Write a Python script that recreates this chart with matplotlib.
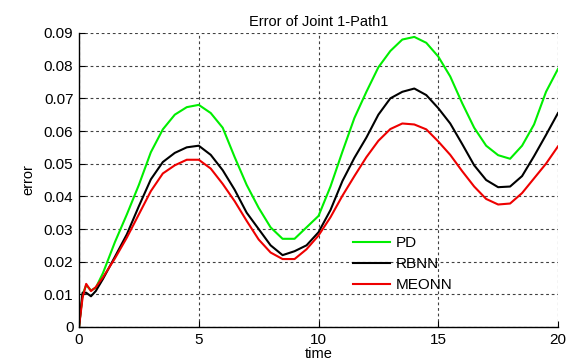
import matplotlib
matplotlib.use("Agg")
import matplotlib.pyplot as plt

t = [0, 0.15, 0.3, 0.5, 0.7, 1.0, 1.5, 2.0, 2.5, 3.0, 3.5, 4.0, 4.5, 5.0, 5.5, 6.0, 6.5, 7.0,
     7.5, 8.0, 8.5, 9.0, 9.5, 10, 10.5, 11, 11.5, 12, 12.5, 13, 13.5, 14, 14.5, 15, 15.5, 16,
     16.5, 17, 17.5, 18, 18.5, 19, 19.5, 20]

pd_err = [0, 0.010, 0.0128, 0.0112, 0.012, 0.0165, 0.026, 0.0345, 0.0435, 0.0535, 0.0605, 0.065,
          0.0673, 0.068, 0.0655, 0.061, 0.052, 0.0435, 0.0365, 0.0305, 0.027, 0.027, 0.0305, 0.034,
          0.043, 0.0537, 0.064, 0.072, 0.0795, 0.0845, 0.088, 0.0888, 0.087, 0.0828, 0.0767, 0.0685,
          0.061, 0.0555, 0.0526, 0.0515, 0.0555, 0.062, 0.072, 0.079]

rbnn_err = [0, 0.0105, 0.0105, 0.0094, 0.011, 0.0147, 0.0215, 0.0284, 0.037, 0.0452, 0.0505, 0.0533,
            0.055, 0.0555, 0.0527, 0.048, 0.042, 0.035, 0.030, 0.025, 0.022, 0.0232, 0.025, 0.029,
            0.0358, 0.0447, 0.0518, 0.058, 0.065, 0.070, 0.072, 0.073, 0.071, 0.067, 0.0623, 0.056,
            0.0495, 0.045, 0.0428, 0.043, 0.0462, 0.0523, 0.0588, 0.0655]

meonn_err = [0, 0.009, 0.0132, 0.011, 0.0122, 0.0152, 0.021, 0.0274, 0.0345, 0.0416, 0.047, 0.0495,
             0.0512, 0.0512, 0.0485, 0.0438, 0.0385, 0.0325, 0.0268, 0.0228, 0.0208, 0.0208, 0.0238,
             0.028, 0.0336, 0.0402, 0.0462, 0.052, 0.057, 0.0606, 0.0623, 0.062, 0.0605, 0.0568,
             0.0527, 0.0477, 0.043, 0.0392, 0.0375, 0.0378, 0.041, 0.0455, 0.050, 0.0553]

labels = ["PD", "RBNN", "MEONN"]
colors = ["#00ee00", "#000000", "#ee0000"]

xticks = [0, 5, 10, 15, 20]
yticks = [0, 0.01, 0.02, 0.03, 0.04, 0.05, 0.06, 0.07, 0.08, 0.09]
ytick_labels = ["0", "0.01", "0.02", "0.03", "0.04", "0.05", "0.06", "0.07", "0.08", "0.09"]

plt.rcParams['font.family'] = ['Liberation Sans', 'DejaVu Sans']

fig = plt.figure(figsize=(5.73, 3.64), dpi=100)
ax = fig.add_axes([79/573, 1 - 327/364, (558 - 79)/573, (327 - 33)/364])

for y, lab, c in zip([pd_err, rbnn_err, meonn_err], labels, colors):
    ax.plot(t, y, color=c, lw=1.5, label=lab)

ax.set_xlim(0, 20)
ax.set_ylim(0, 0.09)
ax.set_xticks(xticks)
ax.set_xticklabels([str(v) for v in xticks])
ax.set_yticks(yticks)
ax.set_yticklabels(ytick_labels)
ax.grid(True, color='0.25', linestyle=(0, (2.5, 2.5)), linewidth=0.8)
ax.spines['top'].set_visible(False)
ax.spines['right'].set_visible(False)
for s in ['left', 'bottom']:
    ax.spines[s].set_linewidth(1.0)
ax.tick_params(direction='in', length=4, labelsize=11, top=False, right=False, pad=4)

ax.set_title("Error of Joint 1-Path1", fontsize=10.5, pad=5)
ax.set_xlabel("time", fontsize=10.5, labelpad=0)
ax.set_ylabel("error", fontsize=10.5, labelpad=6)

leg = ax.legend(loc='upper left', bbox_to_anchor=(347/573, 1 - 230/364),
                bbox_transform=fig.transFigure, frameon=False, fontsize=11,
                handlelength=2.4, handletextpad=0.4, labelspacing=0.45, borderaxespad=0)

fig.savefig("out.png", dpi=100)
